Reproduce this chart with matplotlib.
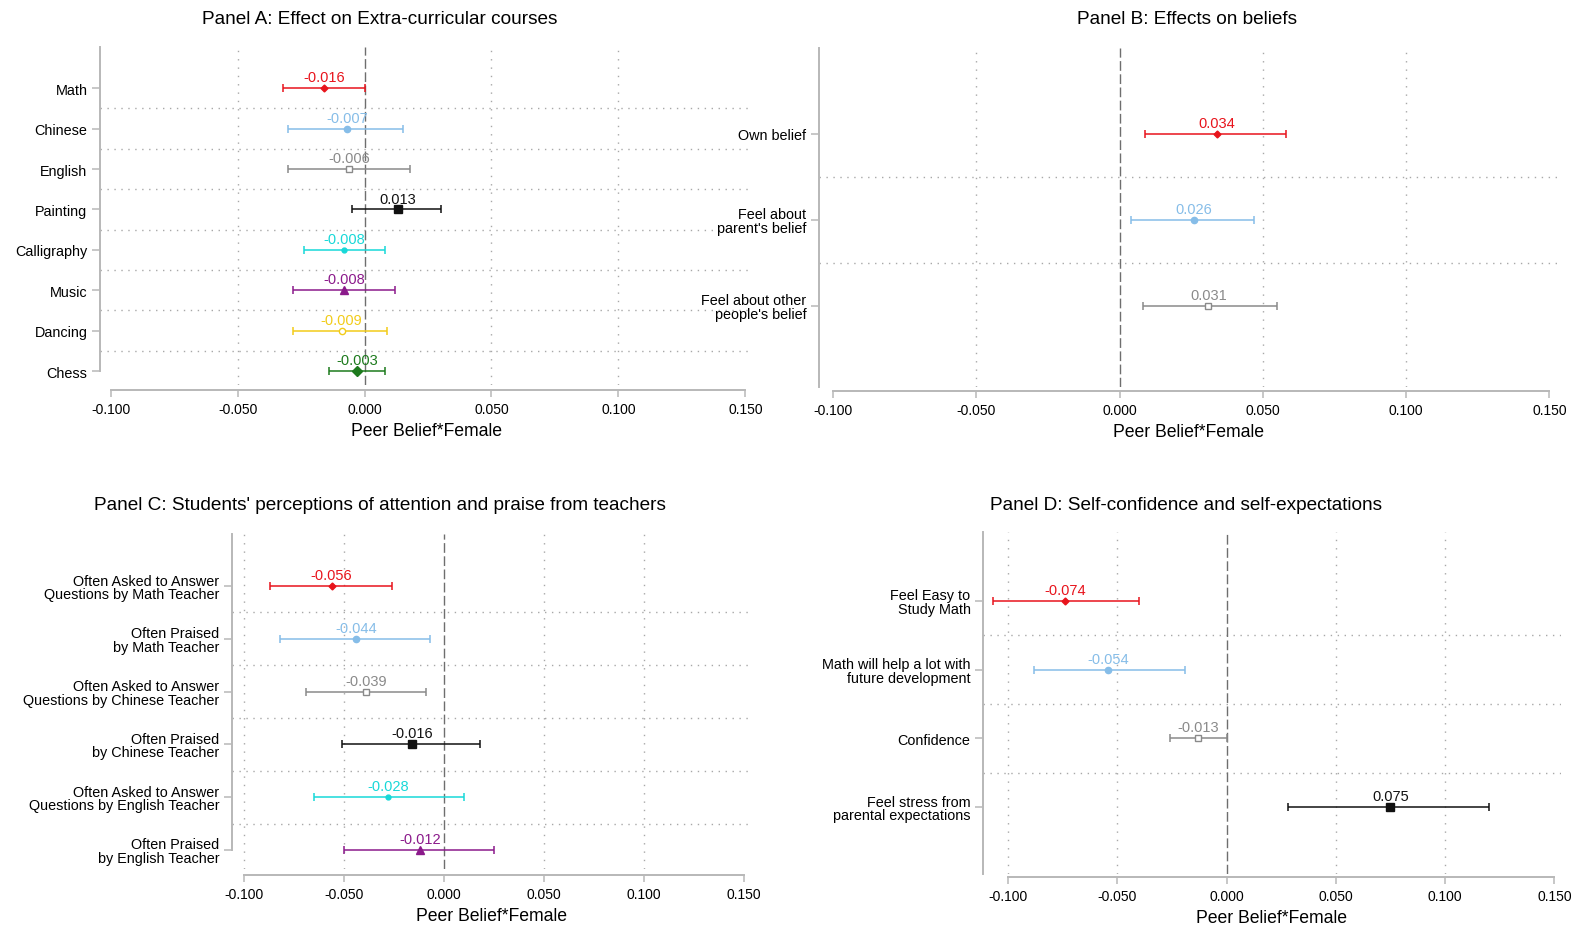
import matplotlib
matplotlib.use("Agg")
import matplotlib.pyplot as plt
import numpy as np

plt.rcParams["font.family"] = ["Liberation Sans", "DejaVu Sans"]

W, H = 1574, 929

# ---- data ----
cats_a = ["Math", "Chinese", "English", "Painting", "Calligraphy", "Music", "Dancing", "Chess"]
est_a = [-0.016, -0.007, -0.006, 0.013, -0.008, -0.008, -0.009, -0.003]
lo_a = [-0.032, -0.030, -0.030, -0.005, -0.024, -0.028, -0.028, -0.014]
hi_a = [0.000, 0.015, 0.018, 0.030, 0.008, 0.012, 0.009, 0.008]

cats_b = ["Own belief", "Feel about\nparent's belief", "Feel about other\npeople's belief"]
est_b = [0.034, 0.026, 0.031]
lo_b = [0.009, 0.004, 0.008]
hi_b = [0.058, 0.047, 0.055]

cats_c = [
    "Often Asked to Answer\nQuestions by Math Teacher",
    "Often Praised\nby Math Teacher",
    "Often Asked to Answer\nQuestions by Chinese Teacher",
    "Often Praised\nby Chinese Teacher",
    "Often Asked to Answer\nQuestions by English Teacher",
    "Often Praised\nby English Teacher",
]
est_c = [-0.056, -0.044, -0.039, -0.016, -0.028, -0.012]
lo_c = [-0.087, -0.082, -0.069, -0.051, -0.065, -0.050]
hi_c = [-0.026, -0.007, -0.009, 0.018, 0.010, 0.025]

cats_d = [
    "Feel Easy to\nStudy Math",
    "Math will help a lot with\nfuture development",
    "Confidence",
    "Feel stress from\nparental expectations",
]
est_d = [-0.074, -0.054, -0.013, 0.075]
lo_d = [-0.107, -0.088, -0.026, 0.028]
hi_d = [-0.040, -0.019, 0.000, 0.120]

titles = [
    "Panel A: Effect on Extra-curricular courses",
    "Panel B: Effects on beliefs",
    "Panel C: Students' perceptions of attention and praise from teachers",
    "Panel D: Self-confidence and self-expectations",
]
xticks = [-0.100, -0.050, 0.000, 0.050, 0.100, 0.150]
xlabel = "Peer Belief*Female"

# series style sequence (same order in every panel)
colors = ["#e8141c", "#86bde8", "#8a8a8a", "#111111", "#18d8d8", "#8b1a8b", "#f2cc1a", "#1d7a1d"]
markers = [("D", 3.5, True), ("o", 4.5, True), ("s", 4.5, False), ("s", 5.5, True),
           ("o", 3.5, True), ("^", 5.5, True), ("o", 4.5, False), ("D", 5.5, True)]

SPINE = "#b8b8b8"
GRID = "#a8a8a8"


def panel(rect, cats, est, lo, hi, ylim, xlim, grid_x, spine_bottom, offset_px):
    left, top, right, bottom = rect
    ax = fig.add_axes([left / W, 1 - bottom / H, (right - left) / W, (bottom - top) / H])
    n = len(cats)
    y = np.arange(n)
    ax.set_xlim(*xlim)
    ax.set_ylim(*ylim)

    for g in grid_x:
        ax.axvline(g, color=GRID, lw=1.0, ls=(0, (1, 5)), zorder=1)
    for k in range(n - 1):
        ax.axhline(k + 0.5, color=GRID, lw=1.0, ls=(0, (1, 4)), zorder=1)
    ax.axvline(0, color="#6e6e6e", lw=1.0, ls=(0, (7, 2.5)), zorder=1)

    for i in range(n):
        c = colors[i]
        m, ms, filled = markers[i]
        ax.errorbar(est[i], y[i], xerr=[[est[i] - lo[i]], [hi[i] - est[i]]], fmt="none",
                    ecolor=c, elinewidth=1.1, capsize=2.8, capthick=1.1, zorder=3)
        ax.plot(est[i], y[i], marker=m, ms=ms, color=c, mec=c,
                mfc=c if filled else "white", mew=1.0, zorder=4)
        ax.annotate(f"{est[i]:.3f}", (est[i], y[i]), xytext=(0, 5), textcoords="offset points",
                    ha="center", va="baseline", color=c, fontsize=10.5)

    ax.set_yticks(y)
    ax.set_yticklabels(cats, fontsize=10.4, linespacing=0.95)
    ax.set_xticks(xticks)
    ax.set_xticklabels([f"{v:.3f}" for v in xticks], fontsize=10.3)
    ax.set_xlabel(xlabel, fontsize=12.7, labelpad=4)

    for s in ["top", "right"]:
        ax.spines[s].set_visible(False)
    for s in ["left", "bottom"]:
        ax.spines[s].set_color(SPINE)
        ax.spines[s].set_linewidth(1.4)
    ax.spines["bottom"].set_position(("outward", offset_px * 0.72))
    ax.spines["bottom"].set_bounds(-0.1, 0.15)
    ax.spines["left"].set_bounds(ylim[1], spine_bottom)
    ax.tick_params(axis="y", length=6, width=1.1, color=SPINE, pad=3)
    ax.tick_params(axis="x", length=5, width=1.1, color=SPINE, pad=4)
    return ax


fig = plt.figure(figsize=(W / 100, H / 100), dpi=100)

panel((100, 48, 753, 386), cats_a, est_a, lo_a, hi_a, (7.344, -1.022), (-0.1042, 0.153),
      [-0.05, 0.05, 0.10], 7, 5)
panel((819, 49, 1558, 388), cats_b, est_b, lo_b, hi_b, (2.945, -0.997), (-0.1049, 0.153),
      [-0.05, 0.05, 0.10], 2.945, 3.5)
panel((232, 535, 750, 870), cats_c, est_c, lo_c, hi_c, (5.36, -0.985), (-0.1058, 0.153),
      [-0.10, -0.05, 0.05, 0.10], 5, 6)
panel((983, 533, 1561, 875), cats_d, est_d, lo_d, hi_d, (3.974, -1.004), (-0.1114, 0.153),
      [-0.10, -0.05, 0.05, 0.10], 3.974, 3)

title_pos = [(380, 19), (1187, 19), (380, 505), (1186, 505)]
for t, (x, yy) in zip(titles, title_pos):
    fig.text(x / W, 1 - yy / H, t, ha="center", va="center", fontsize=13.7)

fig.savefig("out.png", dpi=100)
